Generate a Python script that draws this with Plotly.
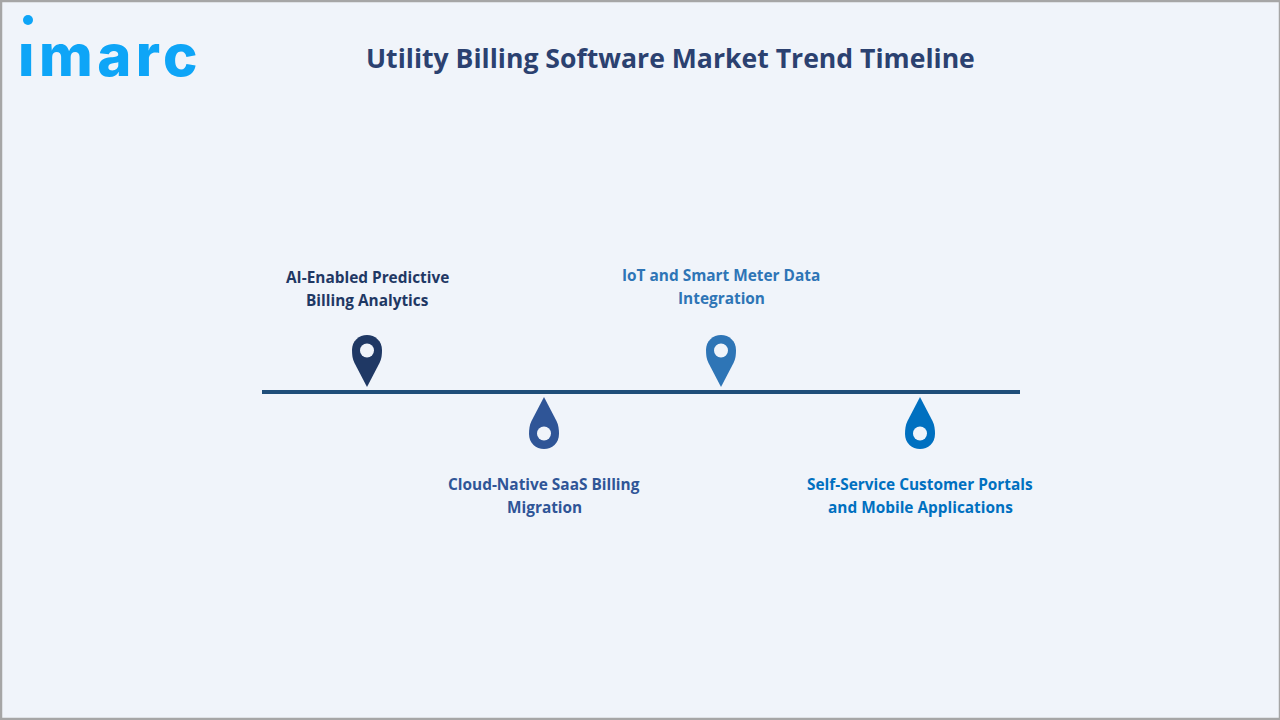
import plotly.graph_objects as go

# Timeline items, one list per text line
trend_line1 = ['AI-Enabled Predictive', 'Cloud-Native SaaS Billing',
               'IoT and Smart Meter Data', 'Self-Service Customer Portals']
trend_line2 = ['Billing Analytics', 'Migration', 'Integration', 'and Mobile Applications']
trend_x = [367, 544, 721, 920]
trend_side = [1, -1, 1, -1]  # 1 = above the line
pin_colors = ['#1f3864', '#2f5597', '#2e75b6', '#0070c0']
line_x = [262, 1020]
line_y = [392, 392]

BG = '#f0f4fa'


def pin_path(x, base, side):
    # base is the tip of the pin, side says which way the head goes
    def pt(dx, dy):
        return f'{x + dx:.1f},{base - side * dy:.1f}'
    return ('M ' + pt(0, 0) + ' L ' + pt(-12.5, 24) +
            ' C ' + pt(-14.5, 28) + ' ' + pt(-15, 32) + ' ' + pt(-15, 37) +
            ' C ' + pt(-15, 46) + ' ' + pt(-8, 52) + ' ' + pt(0, 52) +
            ' C ' + pt(8, 52) + ' ' + pt(15, 46) + ' ' + pt(15, 37) +
            ' C ' + pt(15, 32) + ' ' + pt(14.5, 28) + ' ' + pt(12.5, 24) + ' Z')


fig = go.Figure()

# timeline
fig.add_trace(go.Scatter(x=line_x, y=line_y, mode='lines',
                         line=dict(color='#1f4e79', width=4), hoverinfo='skip'))

shapes = []
annotations = []
for x, side, col, l1, l2 in zip(trend_x, trend_side, pin_colors, trend_line1, trend_line2):
    base = 387 if side == 1 else 397
    shapes.append(dict(type='path', path=pin_path(x, base, side),
                       fillcolor=col, line=dict(width=0)))
    cy = base - side * 36.5
    shapes.append(dict(type='circle', x0=x - 7, x1=x + 7, y0=cy - 7, y1=cy + 7,
                       fillcolor=BG, line=dict(width=0)))
    if side == 1:
        ty = 277 if x == 367 else 275
    else:
        ty = 484
    for txt, y in [(l1, ty), (l2, ty + 23)]:
        annotations.append(dict(x=x, y=y, text=txt, showarrow=False, xanchor='center', yanchor='middle',
                                font=dict(family='Open Sans', size=15.4, color=col, weight=700)))

# title
annotations.append(dict(x=670, y=58, text='Utility Billing Software Market Trend Timeline',
                        showarrow=False, xanchor='center', yanchor='middle',
                        font=dict(family='Open Sans', size=26.6, color='#2b4170', weight=700)))
# logo, the i dot is a separate circle
annotations.append(dict(x=16, y=55, text='<span style="letter-spacing:4.5px">ımarc</span>',
                        showarrow=False, xanchor='left', yanchor='middle',
                        font=dict(family='Inter', size=58, color='#0ea5f7', weight=800)))
shapes.append(dict(type='circle', x0=23, x1=33, y0=15, y1=25, fillcolor='#0ea5f7', line=dict(width=0)))

# border
shapes.append(dict(type='rect', x0=1, x1=1280, y0=1, y1=719, line=dict(color='#a6a6a6', width=2.5),
                   fillcolor='rgba(0,0,0,0)'))

fig.update_layout(width=1280, height=720, margin=dict(l=0, r=0, t=0, b=0),
                  paper_bgcolor=BG, plot_bgcolor=BG, showlegend=False,
                  xaxis=dict(range=[0, 1280], visible=False, fixedrange=True),
                  yaxis=dict(range=[720, 0], visible=False, fixedrange=True),
                  shapes=shapes, annotations=annotations)

fig.write_html('out.html', config={'displayModeBar': False},
               post_script="document.body.style.margin='0';document.documentElement.style.overflow='hidden';")
